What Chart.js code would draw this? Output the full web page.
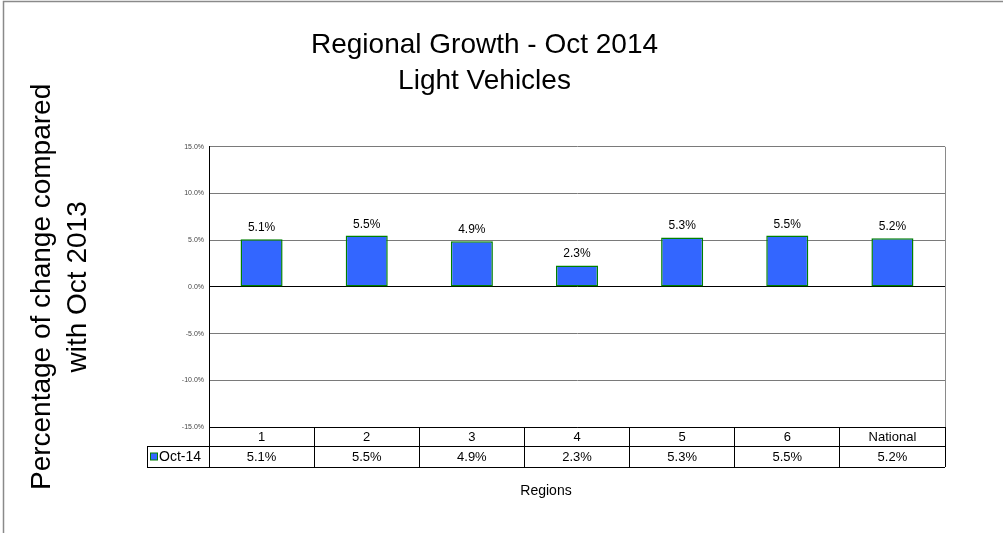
<!DOCTYPE html>
<html>
<head>
<meta charset="utf-8">
<script src="https://cdn.jsdelivr.net/npm/chart.js@4/dist/chart.umd.min.js"></script>
<style>
  html, body { margin: 0; padding: 0; background: #fff; }
  canvas { display: block; }
</style>
</head>
<body>
<canvas id="growth" width="1003" height="535"></canvas>
<script>
// Regional growth, light vehicles, Oct 2014 vs Oct 2013

const regions = ['1', '2', '3', '4', '5', '6', 'National'];
const growth = [5.1, 5.5, 4.9, 2.3, 5.3, 5.5, 5.2];
const seriesName = 'Oct-14';
const titleLines = ['Regional Growth - Oct 2014', 'Light Vehicles'];
const yTitleLines = ['Percentage of change compared', 'with Oct 2013'];
const xTitle = 'Regions';

const FONT = "'Liberation Sans', Arial, sans-serif";
const BAR_FILL = '#3366ff';
const BAR_EDGE = '#008000';

const pct = v => v.toFixed(1) + '%';

// outer frame, left and top edges only show in the reference
const framePlugin = {
  id: 'frame',
  beforeDraw(chart) {
    const ctx = chart.ctx;
    ctx.save();
    ctx.fillStyle = '#fff';
    ctx.fillRect(0, 0, chart.width, chart.height);
    ctx.strokeStyle = '#8a8a8a';
    ctx.lineWidth = 1.5;
    ctx.beginPath();
    ctx.moveTo(3.5, 533);
    ctx.lineTo(3.5, 1.5);
    ctx.lineTo(chart.width, 1.5);
    ctx.stroke();
    ctx.restore();
  }
};

// value labels above bars + the data table under the plot
const tablePlugin = {
  id: 'dataTable',
  afterDraw(chart) {
    const ctx = chart.ctx;
    const x = chart.scales.x;
    const area = chart.chartArea;
    const meta = chart.getDatasetMeta(0);
    const row1 = area.bottom + 19;
    const row2 = area.bottom + 40;
    const left = 147;

    ctx.save();
    ctx.fillStyle = '#000';
    ctx.font = '12px ' + FONT;
    ctx.textAlign = 'center';

    // labels on bars
    meta.data.forEach((bar, i) => {
      ctx.textBaseline = 'alphabetic';
      ctx.fillText(pct(growth[i]), bar.x, bar.y - 8);
    });

    // table grid (verticals come from the x-axis tick marks)
    ctx.strokeStyle = '#000';
    ctx.lineWidth = 1;
    ctx.beginPath();
    ctx.moveTo(left, row1 + 0.5);
    ctx.lineTo(area.right, row1 + 0.5);
    ctx.moveTo(left, row2 + 0.5);
    ctx.lineTo(area.right, row2 + 0.5);
    ctx.moveTo(left + 0.5, row1);
    ctx.lineTo(left + 0.5, row2);
    ctx.stroke();

    // table text
    ctx.textBaseline = 'middle';
    ctx.font = '13px ' + FONT;
    regions.forEach((r, i) => {
      const cx = x.getPixelForValue(i);
      ctx.fillText(r, cx, (area.bottom + row1) / 2 + 1);
      ctx.fillText(pct(growth[i]), cx, (row1 + row2) / 2 + 1);
    });

    // series key
    const ky = (row1 + row2) / 2;
    ctx.fillStyle = BAR_FILL;
    ctx.fillRect(left + 3.5, ky - 3.5, 7, 7);
    ctx.strokeStyle = BAR_EDGE;
    ctx.strokeRect(left + 3.5, ky - 3.5, 7, 7);
    ctx.fillStyle = '#000';
    ctx.textAlign = 'left';
    ctx.font = '14px ' + FONT;
    ctx.fillText(seriesName, left + 12, ky + 1);

    // axis title under the table
    ctx.textAlign = 'center';
    ctx.font = '14px ' + FONT;
    ctx.fillText(xTitle, (left + area.right) / 2, row2 + 24);
    ctx.restore();
  }
};

new Chart(document.getElementById('growth').getContext('2d'), {
  type: 'bar',
  data: {
    labels: regions,
    datasets: [{
      label: seriesName,
      data: growth,
      backgroundColor: BAR_FILL,
      borderColor: BAR_EDGE,
      borderWidth: 1.5,
      borderSkipped: false,
      barPercentage: 0.4,
      categoryPercentage: 1.0,
    }],
  },
  options: {
    responsive: false,
    animation: false,
    layout: { padding: { left: 24, right: 58, top: 0, bottom: 0 } },
    plugins: {
      legend: { display: false },
      tooltip: { enabled: false },
      title: {
        display: true,
        text: titleLines,
        color: '#000',
        font: { family: FONT, size: 28, weight: 'normal', lineHeight: 1.3 },
        padding: { top: 27, bottom: 47 },
      },
    },
    scales: {
      x: {
        grid: {
          offset: true,
          drawOnChartArea: true,
          color: ctx => (ctx.tick ? 'rgba(0,0,0,0)' : '#8a8a8a'),
          tickColor: '#000',
          tickLength: 40,
          tickWidth: 1,
        },
        ticks: { display: false },
        border: { display: true, color: '#000', width: 1 },
        afterFit: s => { s.height = 108; },
      },
      y: {
        min: -15,
        max: 15,
        ticks: {
          stepSize: 5,
          callback: v => pct(v),
          color: '#444',
          font: { family: FONT, size: 7 },
          padding: 5,
        },
        grid: {
          drawTicks: false,
          color: ctx => (ctx.tick && ctx.tick.value === 0 ? '#000' : '#7a7a7a'),
          lineWidth: 1,
        },
        border: { color: '#000', width: 1 },
        title: {
          display: true,
          text: yTitleLines,
          color: '#000',
          font: { family: FONT, size: 28, lineHeight: 1.3 },
          padding: { top: 0, bottom: 0 },
        },
        afterFit: s => { s.width = 185; },
      },
    },
  },
  plugins: [framePlugin, tablePlugin],
});
</script>
</body>
</html>
